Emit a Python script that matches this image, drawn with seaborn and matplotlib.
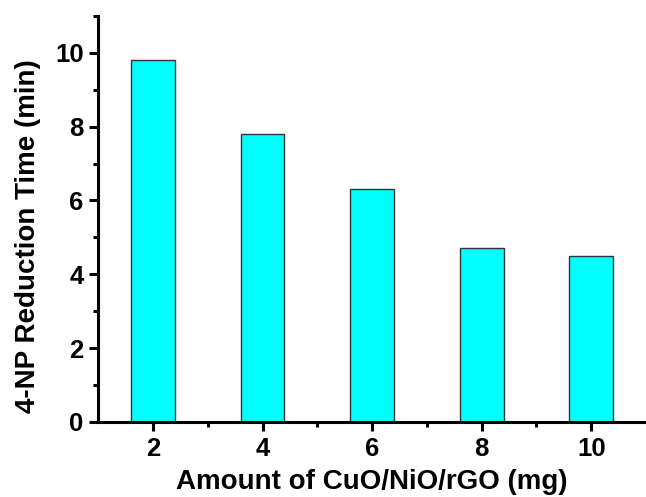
import matplotlib
matplotlib.use("Agg")
import matplotlib.pyplot as plt
import seaborn as sns
import pandas as pd
from matplotlib.ticker import FixedLocator

amounts = ["2", "4", "6", "8", "10"]
times = [9.8, 7.8, 6.3, 4.7, 4.5]

sns.set_style("ticks")
plt.rcParams['font.family'] = ['Liberation Sans', 'DejaVu Sans']
plt.rcParams['font.weight'] = 'bold'
plt.rcParams['text.color'] = 'black'
plt.rcParams['axes.labelcolor'] = 'black'

df = pd.DataFrame({"amount": amounts, "time": times})

fig = plt.figure(figsize=(6.46, 4.97), dpi=100)
ax = fig.add_axes([0.152, 0.151, 0.848, 0.817])
sns.barplot(data=df, x="amount", y="time", ax=ax, color="#00FFFF",
            saturation=1, width=0.4, edgecolor="#333333", linewidth=1.0)

ax.set_xlim(-0.5, 4.5)
ax.set_ylim(0, 11)
ax.yaxis.set_major_locator(FixedLocator([0, 2, 4, 6, 8, 10]))
ax.yaxis.set_minor_locator(FixedLocator([1, 3, 5, 7, 9, 11]))
ax.xaxis.set_minor_locator(FixedLocator([0.5, 1.5, 2.5, 3.5]))

for s in ["top", "right"]:
    ax.spines[s].set_visible(False)
for s in ["left", "bottom"]:
    ax.spines[s].set_linewidth(2.2)
    ax.spines[s].set_color("black")

ax.tick_params(axis="both", which="major", direction="out", length=6.5, width=2.2,
               labelsize=18.5, colors="black", pad=4)
ax.tick_params(axis="both", which="minor", direction="out", length=3.5, width=2.2,
               colors="black")
for lab in ax.get_xticklabels() + ax.get_yticklabels():
    lab.set_fontweight("bold")

ax.set_xlabel("Amount of CuO/NiO/rGO (mg)", fontsize=20, fontweight="bold",
              labelpad=6, color="black")
ax.set_ylabel("4-NP Reduction Time (min)", fontsize=20, fontweight="bold",
              color="black")
ax.yaxis.set_label_coords(-0.105, 0.458)

fig.savefig("out.png", dpi=100)
